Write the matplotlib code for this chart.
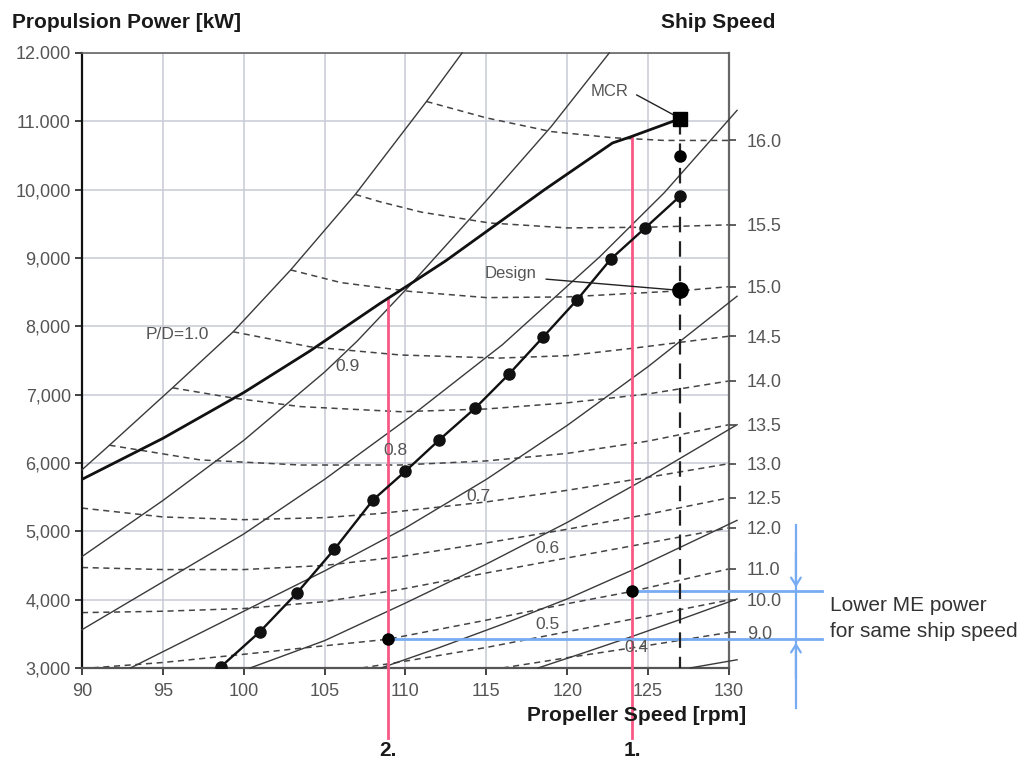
import matplotlib.pyplot as plt

plt.rcParams["font.family"] = ["Liberation Sans", "DejaVu Sans"]

# propeller speed [rpm] / propulsion power [kW]

# constant pitch ratio curves (thin solid)
PD_LABELS = ["P/D=1.0", "0.9", "0.8", "0.7", "0.6", "0.5", "0.4", ""]
PD_X = [
    [90, 91.7, 95.6, 99.35, 102.9, 106.9, 111.3, 113.5],
    [90, 95, 100, 105, 107, 110.3, 115, 119, 122.6],
    [90, 100, 105, 110.3, 116, 122, 126, 130.5],
    [93, 100, 105, 110, 115, 120, 125, 130.5],
    [100.4, 105, 110, 115, 120, 125, 130.5],
    [108.5, 112, 116, 120, 124, 130.5],
    [118.2, 121, 124, 127, 130.5],
    [127.6, 130.5],
]
PD_Y = [
    [5900, 6260, 7100, 7920, 8824, 9930, 11290, 12000],
    [4630, 5450, 6330, 7330, 7780, 8605, 9840, 10920, 12000],
    [3560, 4960, 5760, 6677, 7732, 9015, 9955, 11160],
    [3000, 3830, 4420, 5050, 5760, 6550, 7410, 8440],
    [3000, 3400, 3950, 4520, 5130, 5790, 6560],
    [3000, 3290, 3640, 4010, 4430, 5160],
    [3000, 3220, 3460, 3710, 4010],
    [3000, 3120],
]
PD_LABEL_POS = [(95.9, 7873), (106.4, 7405), (109.35, 6176), (114.5, 5503),
                (118.8, 4741), (118.8, 3630), (124.3, 3293)]

# constant ship speed curves (dashed) [knots]
SPEED_LABELS = ["16.0", "15.5", "15.0", "14.5", "14.0", "13.5", "13.0",
                "12.5", "12.0", "11.0", "10.0", "9.0"]
SPEED_X = [
    [111.3, 115, 119, 122.8, 126, 130],
    [106.9, 108.4, 111, 115.2, 120, 125, 130],
    [102.9, 106, 110.3, 115, 120, 127, 130],
    [99.35, 104.1, 109.7, 115.8, 120, 124.1, 130],
    [95.6, 99.35, 103.5, 109.7, 115, 120, 125, 130],
    [91.7, 97.3, 103.5, 109.7, 115, 120, 125, 130],
    [90, 95, 100, 105, 108.4, 115, 120, 125, 130],
    [90, 95, 100, 105, 109.7, 115, 120, 125, 130],
    [90, 95, 100, 105, 109.7, 115, 120, 125, 130],
    [90, 95, 100, 104, 108.9, 115, 120, 124, 130],
    [107.3, 110, 115, 120, 125, 130],
    [116, 120, 125, 130],
]
SPEED_Y = [
    [11290, 11050, 10850, 10760, 10720, 10720],
    [9930, 9824, 9670, 9512, 9440, 9450, 9485],
    [8825, 8640, 8510, 8420, 8430, 8520, 8580],
    [7920, 7700, 7580, 7535, 7570, 7680, 7855],
    [7100, 6950, 6825, 6750, 6790, 6880, 7010, 7200],
    [6260, 6045, 5970, 5970, 6030, 6140, 6320, 6560],
    [5340, 5210, 5170, 5200, 5260, 5430, 5600, 5790, 5990],
    [4470, 4440, 4440, 4500, 4630, 4830, 5030, 5250, 5490],
    [3810, 3830, 3870, 3970, 4150, 4390, 4610, 4830, 5050],
    [2990, 3080, 3200, 3300, 3420, 3700, 3940, 4120, 4450],
    [3000, 3100, 3300, 3530, 3760, 3995],
    [3000, 3150, 3330, 3520],
]

# engine limit line up to MCR (thick)
LIMIT_X = [90, 92, 95, 100, 104.1, 108.4, 110.3, 112.5, 118.6, 122.8, 123.9, 127.0]
LIMIT_Y = [5760, 6000, 6360, 7030, 7640, 8330, 8620, 8960, 10000, 10683, 10771, 11040]

# propeller curve with operating points
PROP_X = [98.6, 101.0, 103.3, 105.6, 108.0, 110.0, 112.1, 114.3, 116.4,
          118.5, 120.6, 122.7, 124.8, 127.0]
PROP_Y = [3020, 3530, 4100, 4735, 5460, 5880, 6340, 6800, 7300,
          7840, 8385, 8985, 9435, 9910]

MCR = (127.0, 11040)
DESIGN = (127.0, 8525)
EXTRA_POINT = (127.0, 10485)

# fixed-pitch options 1. and 2.
OPTION_RPM = [124.0, 108.9]
OPTION_TOP = [10780, 8410]
OPTION_POWER = [4120, 3420]
OPTION_NAMES = ["1.", "2."]

X_TICKS = list(range(90, 131, 5))
Y_TICKS = list(range(3000, 12001, 1000))
Y_TICK_LABELS = ["3,000", "4,000", "5,000", "6,000", "7,000", "8,000",
                 "9,000", "10,000", "11.000", "12.000"]

PINK = "#f85885"
BLUE = "#78acf2"
GRID = "#c7cad5"
LINE = "#3a3a3a"
LABEL = "#555555"

fig = plt.figure(figsize=(10.27, 7.6), dpi=100)
ax = fig.add_axes([0.0798, 0.1211, 0.6300, 0.8092])
ax.set_xlim(90, 130)
ax.set_ylim(3000, 12000)

ax.set_xticks(X_TICKS)
ax.set_yticks(Y_TICKS)
ax.set_yticklabels(Y_TICK_LABELS)
ax.grid(True, color=GRID, lw=1.1, zorder=0)
ax.set_axisbelow(True)
ax.tick_params(axis="both", labelsize=13, labelcolor=LABEL, length=5,
               width=1.2, color="#222222")
ax.tick_params(axis="x", pad=6)
ax.tick_params(axis="y", pad=3)

for side, color, lw in [("left", "#111111", 1.6), ("bottom", "#555555", 1.6),
                        ("right", "#666666", 1.6), ("top", "#666666", 1.2)]:
    ax.spines[side].set_color(color)
    ax.spines[side].set_linewidth(lw)

# ship speed curves
for xs, ys in zip(SPEED_X, SPEED_Y):
    ax.plot(xs, ys, color="#444444", lw=1.1, dashes=(4, 3), zorder=2)

# pitch ratio curves
for xs, ys in zip(PD_X, PD_Y):
    ax.plot(xs, ys, color=LINE, lw=1.0, zorder=3, clip_on=False)

for (tx, ty), label in zip(PD_LABEL_POS, PD_LABELS):
    ax.text(tx, ty, label, fontsize=12.5, color=LABEL, ha="center", va="center",
            zorder=6)

# option lines and blue power comparison
for rpm, top, power, name in zip(OPTION_RPM, OPTION_TOP, OPTION_POWER, OPTION_NAMES):
    ax.plot([rpm, rpm], [top, 1980], color=PINK, lw=2.0, zorder=4, clip_on=False)
    ax.plot([rpm, 135.75], [power, power], color=BLUE, lw=2.0, zorder=4,
            clip_on=False)
    ax.plot(rpm, power, "o", color="black", ms=8, zorder=7)
    ax.text(rpm, 1790, name, fontsize=15, fontweight="bold", color="#1a1a1a",
            ha="center", va="center")

ax.plot([134.14, 134.14], [5093, 2415], color=BLUE, lw=1.6, clip_on=False)
arrow_style = dict(arrowstyle="->,head_length=0.55,head_width=0.35",
                   color=BLUE, lw=1.6, shrinkA=0, shrinkB=0)
ax.annotate("", xy=(134.14, 4180), xytext=(134.14, 4700),
            arrowprops=arrow_style, annotation_clip=False)
ax.annotate("", xy=(134.14, 3370), xytext=(134.14, 2850),
            arrowprops=arrow_style, annotation_clip=False)

# vertical line at MCR speed
ax.plot([MCR[0], MCR[0]], [MCR[1], 3000], color="#222222", lw=1.6,
        dashes=(7, 4), zorder=4)

# engine limit line
ax.plot(LIMIT_X, LIMIT_Y, color="#111111", lw=2.0, zorder=5)

# propeller curve
ax.plot(PROP_X, PROP_Y, color="#111111", lw=1.7, marker="o", ms=8, zorder=6)
ax.plot(*EXTRA_POINT, "o", color="black", ms=8, zorder=7)
ax.plot(*DESIGN, "o", color="black", ms=11, zorder=7)
ax.plot(*MCR, "s", color="black", ms=10, zorder=7)

# MCR / Design annotations
ax.plot([124.3, MCR[0]], [11385, MCR[1]], color="#222222", lw=1.0, zorder=6)
ax.text(122.6, 11434, "MCR", fontsize=12, color=LABEL, ha="center", va="center")
ax.plot([118.7, DESIGN[0]], [8690, DESIGN[1]], color="#222222", lw=1.0, zorder=6)
ax.text(116.5, 8766, "Design", fontsize=12, color=LABEL, ha="center", va="center")

# right axis: ship speed
ax2 = ax.twinx()
ax2.set_ylim(3000, 12000)
ax2.set_yticks([ys[-1] for ys in SPEED_Y])
ax2.set_yticklabels(SPEED_LABELS)
ax2.tick_params(axis="y", labelsize=13, labelcolor=LABEL, length=5, width=1.2,
                color="#444444", pad=8)
for side in ["left", "right", "top", "bottom"]:
    ax2.spines[side].set_visible(False)

fig.text(0.0117, 0.971, "Propulsion Power [kW]", fontsize=15, fontweight="bold",
         color="#1a1a1a", ha="left", va="center")
fig.text(0.7546, 0.971, "Ship Speed", fontsize=15, fontweight="bold",
         color="#1a1a1a", ha="right", va="center")
fig.text(0.7264, 0.0592, "Propeller Speed [rpm]", fontsize=15, fontweight="bold",
         color="#1a1a1a", ha="right", va="center")
fig.text(0.808, 0.2039, "Lower ME power", fontsize=15, color="#333333",
         ha="left", va="center")
fig.text(0.808, 0.1697, "for same ship speed", fontsize=15, color="#333333",
         ha="left", va="center")

fig.savefig("out.png", dpi=100)
